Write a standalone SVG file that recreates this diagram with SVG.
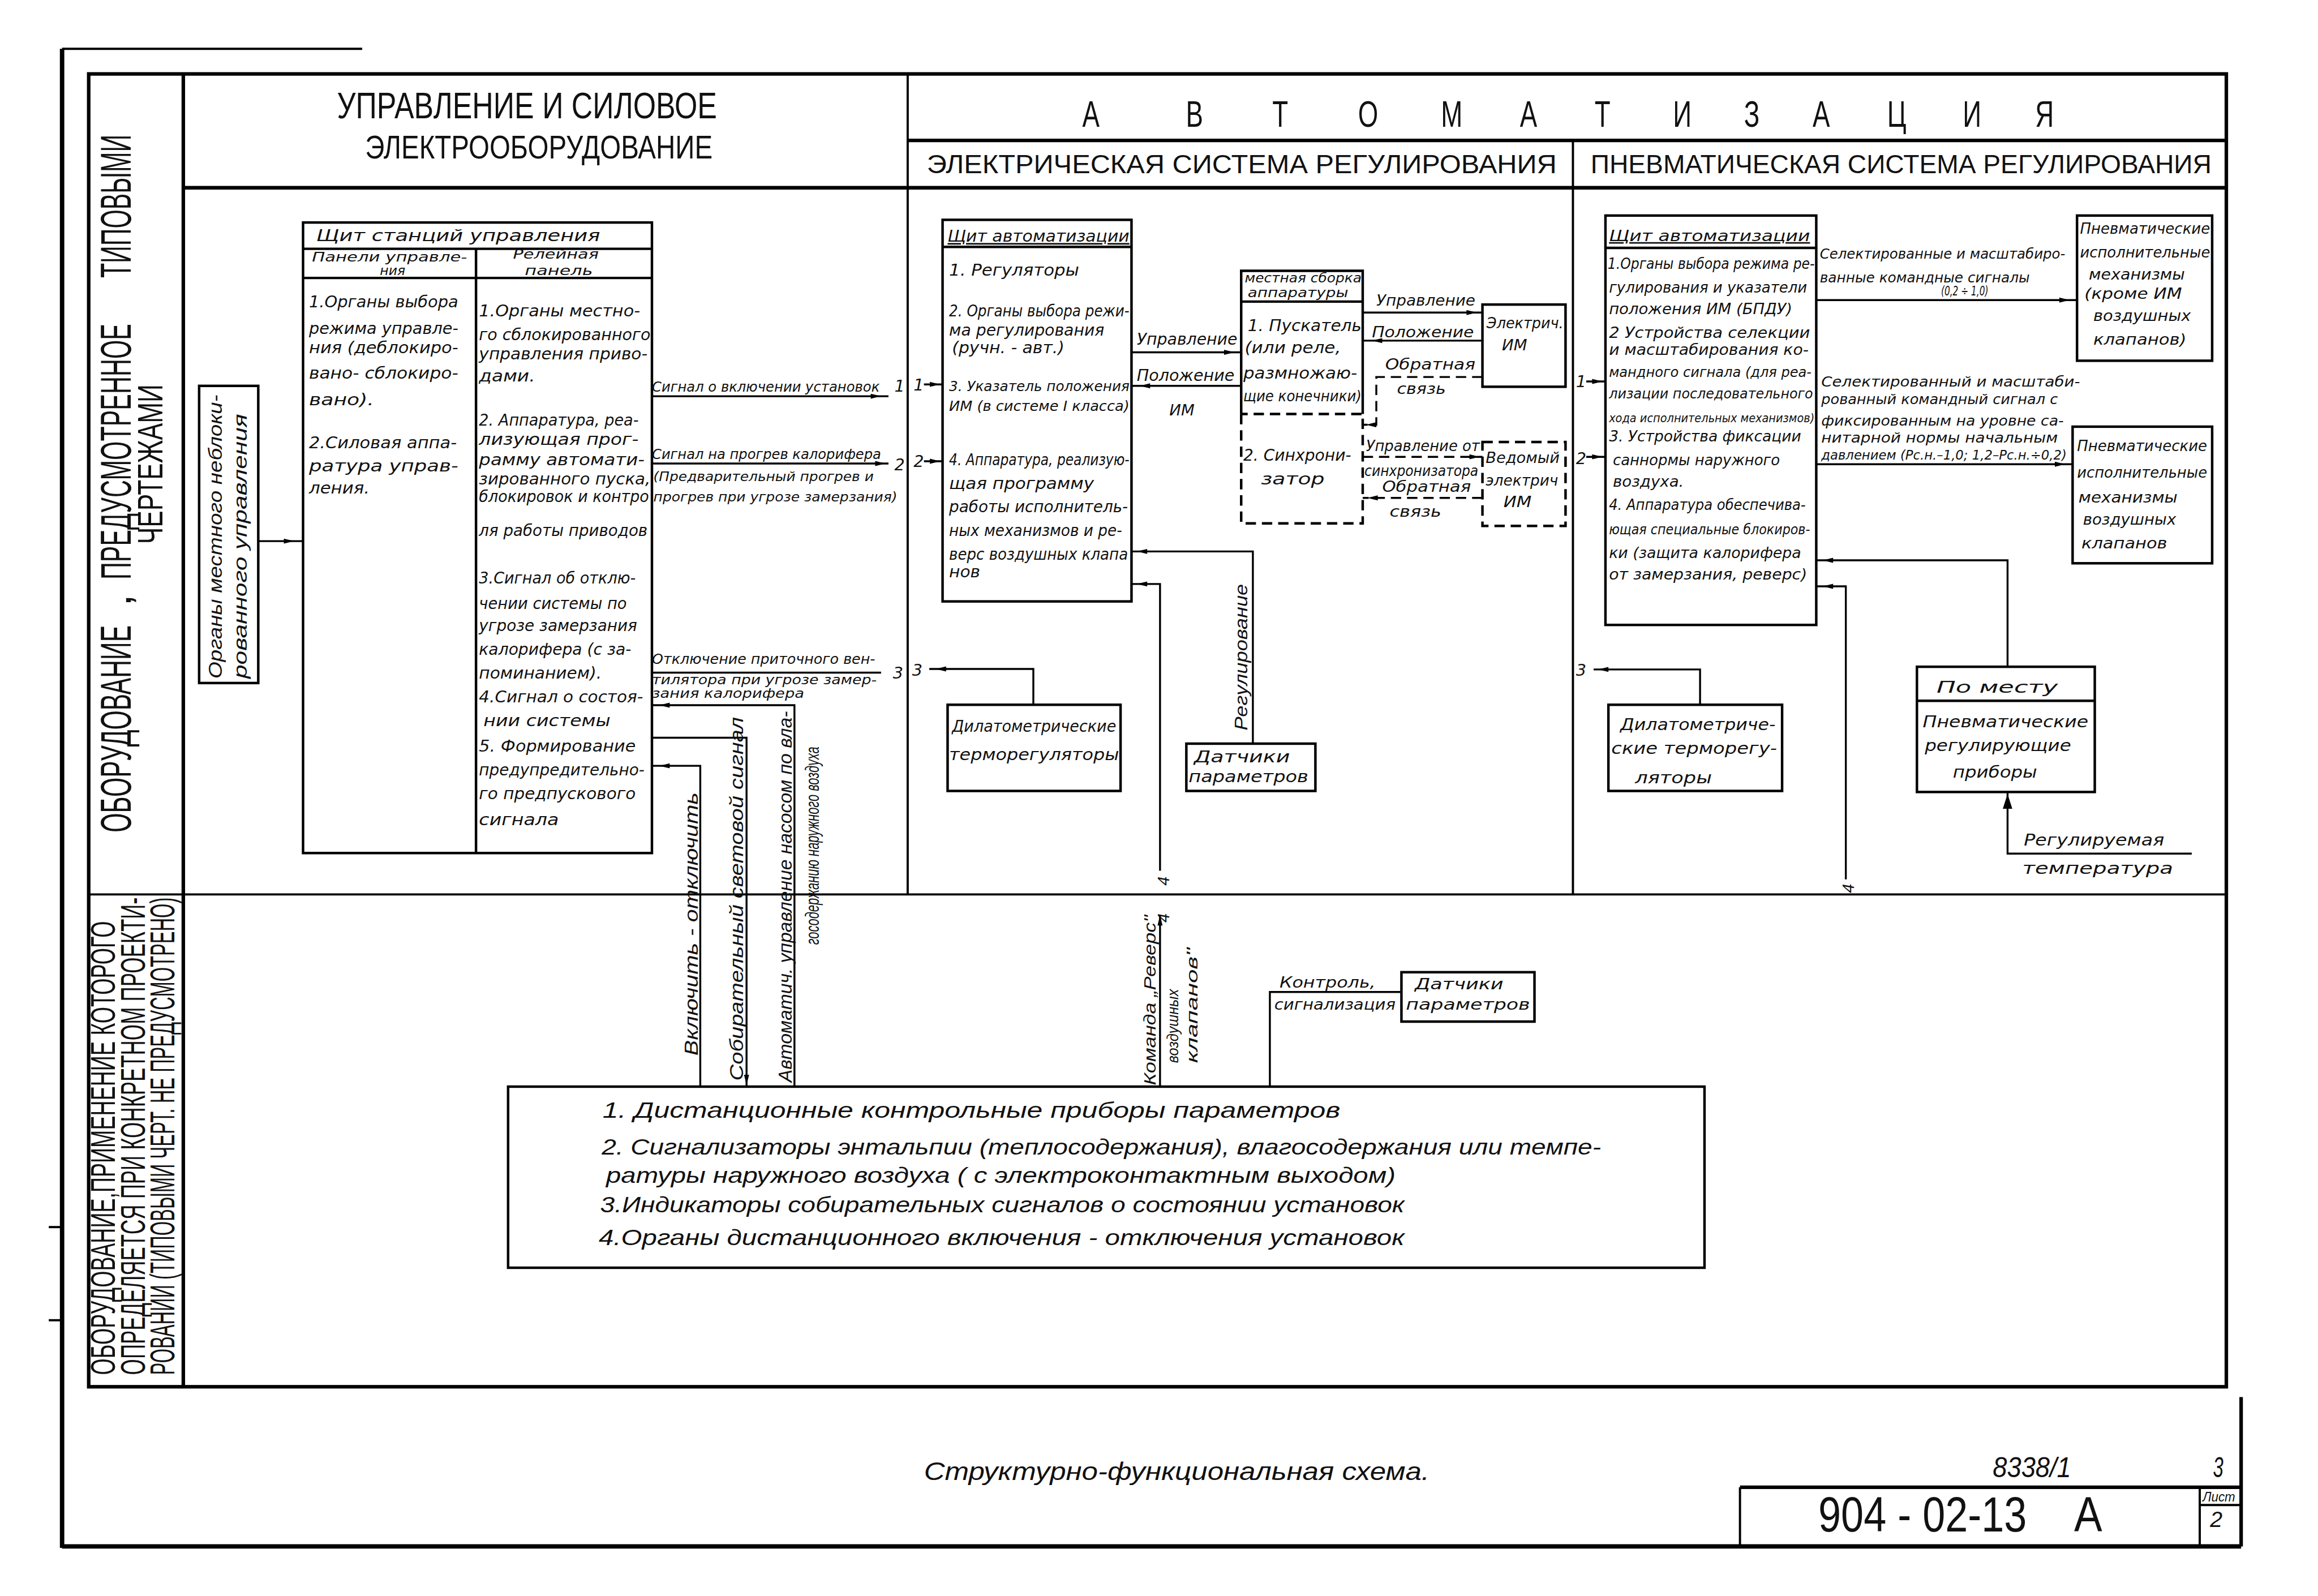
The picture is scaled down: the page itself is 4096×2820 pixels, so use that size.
<svg xmlns="http://www.w3.org/2000/svg" xmlns:xlink="http://www.w3.org/1999/xlink" width="4096" height="2820" viewBox="0 0 4096 2820">
<style>
.h{font-family:"DejaVu Sans","Liberation Sans",sans-serif;font-style:italic;fill:#111}
.n{font-family:"Liberation Sans","DejaVu Sans",sans-serif;fill:#111}
.ni{font-family:"Liberation Sans","DejaVu Sans",sans-serif;font-style:italic;fill:#111}
.fr{stroke:#000;stroke-width:2.4;fill:none}
.fm{stroke:#000;stroke-width:1.5;fill:none}
.bx{stroke:#000;stroke-width:1.7;fill:none}
.ln{stroke:#000;stroke-width:1.3;fill:none}
.ds{stroke-dasharray:7 4}
</style>
<defs>
<path id="ah" d="M0 0 L-7 -1.7 L-7 1.7 Z" fill="#000"/>
<path id="ahb" d="M0 0 L-10 -3.2 L-10 3.2 Z" fill="#000"/>
</defs>
<rect width="4096" height="2820" fill="#fff"/>
<g transform="scale(2.612245)">

<g id="frame">
<line x1="42" y1="33" x2="42" y2="1047" stroke="#000" stroke-width="3"/>
<line x1="42" y1="33" x2="245" y2="33" class="fm"/>
<line x1="42" y1="1046" x2="1516" y2="1046" stroke="#000" stroke-width="3"/>
<line x1="1516" y1="945" x2="1516" y2="1046" class="fr"/>
<line x1="33" y1="830" x2="42" y2="830" class="fm"/>
<line x1="33" y1="893" x2="42" y2="893" class="fm"/>
<rect x="60" y="50" width="1446" height="888" class="fr"/>
<line x1="124" y1="50" x2="124" y2="938" class="fr"/>
<line x1="124" y1="127" x2="1506" y2="127" class="fr"/>
<line x1="614" y1="50" x2="614" y2="605" class="fm"/>
<line x1="614" y1="95" x2="1506" y2="95" class="fr"/>
<line x1="1064" y1="95" x2="1064" y2="605" class="fm"/>
<line x1="60" y1="605" x2="1506" y2="605" class="fm"/>
</g>

<g id="side-texts">
<text class="n" font-size="29" transform="translate(88.6,563) rotate(-90)" textLength="140" lengthAdjust="spacingAndGlyphs">ОБОРУДОВАНИЕ</text>
<text class="n" font-size="29" transform="translate(88.6,410) rotate(-90)">,</text>
<text class="n" font-size="29" transform="translate(88.6,392) rotate(-90)" textLength="173" lengthAdjust="spacingAndGlyphs">ПРЕДУСМОТРЕННОЕ</text>
<text class="n" font-size="29" transform="translate(88.6,188) rotate(-90)" textLength="97" lengthAdjust="spacingAndGlyphs">ТИПОВЫМИ</text>
<text class="n" font-size="24" transform="translate(110,368) rotate(-90)" textLength="108" lengthAdjust="spacingAndGlyphs">ЧЕРТЕЖАМИ</text>
<text class="n" font-size="23.5" transform="translate(77.7,930) rotate(-90)" textLength="307" lengthAdjust="spacingAndGlyphs">ОБОРУДОВАНИЕ,ПРИМЕНЕНИЕ КОТОРОГО</text>
<text class="n" font-size="23.5" transform="translate(98,930) rotate(-90)" textLength="323" lengthAdjust="spacingAndGlyphs">ОПРЕДЕЛЯЕТСЯ ПРИ КОНКРЕТНОМ ПРОЕКТИ-</text>
<text class="n" font-size="23.5" transform="translate(118,930) rotate(-90)" textLength="323" lengthAdjust="spacingAndGlyphs">РОВАНИИ (ТИПОВЫМИ ЧЕРТ. НЕ ПРЕДУСМОТРЕНО)</text>
</g>

<g id="headers">
<text class="n" font-size="25" x="228" y="80" textLength="257" lengthAdjust="spacingAndGlyphs">УПРАВЛЕНИЕ И  СИЛОВОЕ</text>
<text class="n" font-size="22" x="247" y="107" textLength="235" lengthAdjust="spacingAndGlyphs">ЭЛЕКТРООБОРУДОВАНИЕ</text>
<text class="n" font-size="25" transform="scale(0.7,1)" y="85.6" text-anchor="middle"><tspan x="1054.3">А</tspan><tspan x="1154.3">В</tspan><tspan x="1237.1">Т</tspan><tspan x="1322.1">О</tspan><tspan x="1402.9">М</tspan><tspan x="1477.1">А</tspan><tspan x="1548.6">Т</tspan><tspan x="1625.7">И</tspan><tspan x="1692.9">З</tspan><tspan x="1760">А</tspan><tspan x="1832.9">Ц</tspan><tspan x="1905.7">И</tspan><tspan x="1975.7">Я</tspan></text>
<text class="n" font-size="17.5" x="627" y="117" textLength="426" lengthAdjust="spacingAndGlyphs">ЭЛЕКТРИЧЕСКАЯ   СИСТЕМА   РЕГУЛИРОВАНИЯ</text>
<text class="n" font-size="17.5" x="1076" y="117" textLength="420" lengthAdjust="spacingAndGlyphs">ПНЕВМАТИЧЕСКАЯ  СИСТЕМА  РЕГУЛИРОВАНИЯ</text>
</g>

<g id="node-local-control">
<rect x="134.7" y="261" width="40" height="201" class="bx"/>
<text class="ni" font-size="12.5" transform="translate(150,459) rotate(-90)" textLength="192" lengthAdjust="spacingAndGlyphs">Органы местного неблоки-</text>
<text class="ni" font-size="12.5" transform="translate(167,459) rotate(-90)" textLength="179" lengthAdjust="spacingAndGlyphs">рованного управления</text>
</g>

<g id="node-station-panel">
<rect x="205" y="150.5" width="236" height="426.5" class="bx"/>
<line x1="205" y1="168.3" x2="441" y2="168.3" class="bx"/>
<line x1="205" y1="188" x2="441" y2="188" class="bx"/>
<line x1="322" y1="168.3" x2="322" y2="577" class="bx"/>
<text class="h" font-size="11" x="214" y="163" textLength="192" lengthAdjust="spacingAndGlyphs">Щит станций  управления</text>
<text class="h" font-size="9" x="211" y="177" textLength="105" lengthAdjust="spacingAndGlyphs">Панели управле-</text>
<text class="h" font-size="9" x="257" y="186">ния</text>
<text class="h" font-size="9" x="347" y="175" textLength="58" lengthAdjust="spacingAndGlyphs">Релейная</text>
<text class="h" font-size="9" x="355" y="186" textLength="46" lengthAdjust="spacingAndGlyphs">панель</text>
<g font-size="11" class="h">
<text x="209" y="208" textLength="101" lengthAdjust="spacingAndGlyphs">1.Органы выбора</text>
<text x="209" y="226" textLength="101" lengthAdjust="spacingAndGlyphs">режима управле-</text>
<text x="209" y="239" textLength="101" lengthAdjust="spacingAndGlyphs">ния (деблокиро-</text>
<text x="209" y="256" textLength="101" lengthAdjust="spacingAndGlyphs">вано- сблокиро-</text>
<text x="209" y="274" textLength="44" lengthAdjust="spacingAndGlyphs">вано).</text>
<text x="209" y="303" textLength="100" lengthAdjust="spacingAndGlyphs">2.Силовая аппа-</text>
<text x="209" y="319" textLength="101" lengthAdjust="spacingAndGlyphs">ратура управ-</text>
<text x="209" y="334" textLength="41" lengthAdjust="spacingAndGlyphs">ления.</text>
<text x="324" y="214" textLength="109" lengthAdjust="spacingAndGlyphs">1.Органы местно-</text>
<text x="324" y="230" textLength="116" lengthAdjust="spacingAndGlyphs">го сблокированного</text>
<text x="324" y="243" textLength="114" lengthAdjust="spacingAndGlyphs">управления приво-</text>
<text x="324" y="258" textLength="38" lengthAdjust="spacingAndGlyphs">дами.</text>
<text x="324" y="288" textLength="108" lengthAdjust="spacingAndGlyphs">2. Аппаратура, реа-</text>
<text x="324" y="301" textLength="108" lengthAdjust="spacingAndGlyphs">лизующая прог-</text>
<text x="324" y="314.6" textLength="112" lengthAdjust="spacingAndGlyphs">рамму автомати-</text>
<text x="324" y="327.7" textLength="116" lengthAdjust="spacingAndGlyphs">зированного пуска,</text>
<text x="324" y="339.4" textLength="115" lengthAdjust="spacingAndGlyphs">блокировок и контро</text>
<text x="324" y="362.7" textLength="114" lengthAdjust="spacingAndGlyphs">ля работы приводов</text>
<text x="324" y="394.7" textLength="106" lengthAdjust="spacingAndGlyphs">3.Сигнал об отклю-</text>
<text x="324" y="412" textLength="100" lengthAdjust="spacingAndGlyphs">чении системы по</text>
<text x="324" y="426.8" textLength="107" lengthAdjust="spacingAndGlyphs">угрозе замерзания</text>
<text x="324" y="442.8" textLength="103" lengthAdjust="spacingAndGlyphs">калорифера (с за-</text>
<text x="324" y="459" textLength="83" lengthAdjust="spacingAndGlyphs">поминанием).</text>
<text x="324" y="475" textLength="111" lengthAdjust="spacingAndGlyphs">4.Сигнал о состоя-</text>
<text x="327" y="491" textLength="86" lengthAdjust="spacingAndGlyphs">нии  системы</text>
<text x="324" y="508.4" textLength="106" lengthAdjust="spacingAndGlyphs">5. Формирование</text>
<text x="324" y="524.5" textLength="112" lengthAdjust="spacingAndGlyphs">предупредительно-</text>
<text x="324" y="540.5" textLength="106" lengthAdjust="spacingAndGlyphs">го предпускового</text>
<text x="324" y="558" textLength="54" lengthAdjust="spacingAndGlyphs">сигнала</text>
</g>
</g>

<g id="node-el-panel">
<rect x="637.6" y="148.7" width="127.8" height="258.1" class="bx"/>
<line x1="637.6" y1="167" x2="765.4" y2="167" class="bx"/>
<g class="h" font-size="11">
<text x="641" y="163.6" textLength="123" lengthAdjust="spacingAndGlyphs" text-decoration="underline">Щит автоматизации</text>
<text x="642" y="186.3" textLength="88" lengthAdjust="spacingAndGlyphs">1. Регуляторы</text>
<text x="642" y="214" textLength="122" lengthAdjust="spacingAndGlyphs">2. Органы выбора режи-</text>
<text x="642" y="227" textLength="105" lengthAdjust="spacingAndGlyphs">ма регулирования</text>
<text x="644" y="239" textLength="76" lengthAdjust="spacingAndGlyphs">(ручн. - авт.)</text>
<text x="642" y="264.6" font-size="9.5" textLength="122" lengthAdjust="spacingAndGlyphs">3. Указатель положения</text>
<text x="642" y="278" font-size="9.5" textLength="122" lengthAdjust="spacingAndGlyphs">ИМ (в системе I класса)</text>
<text x="642" y="314.6" textLength="122" lengthAdjust="spacingAndGlyphs">4. Аппаратура, реализую-</text>
<text x="642" y="330.6" textLength="98" lengthAdjust="spacingAndGlyphs">щая  программу</text>
<text x="642" y="346.6" textLength="121" lengthAdjust="spacingAndGlyphs">работы исполнитель-</text>
<text x="642" y="362.7" textLength="117" lengthAdjust="spacingAndGlyphs">ных механизмов и ре-</text>
<text x="642" y="378.7" textLength="121" lengthAdjust="spacingAndGlyphs">верс воздушных клапа</text>
<text x="642" y="390.4" textLength="21" lengthAdjust="spacingAndGlyphs">нов</text>
</g>
</g>

<g id="node-el-dilat">
<rect x="641" y="476.7" width="117" height="58.3" class="bx"/>
<text class="h" font-size="11" x="644" y="495" textLength="111" lengthAdjust="spacingAndGlyphs">Дилатометрические</text>
<text class="h" font-size="11" x="642" y="514" textLength="115" lengthAdjust="spacingAndGlyphs">терморегуляторы</text>
</g>

<g id="node-el-sensors">
<rect x="802.5" y="503" width="87.3" height="32" class="bx"/>
<text class="h" font-size="11" x="807.6" y="515.7" textLength="65" lengthAdjust="spacingAndGlyphs">Датчики</text>
<text class="h" font-size="11" x="804" y="529" textLength="81" lengthAdjust="spacingAndGlyphs">параметров</text>
</g>

<g id="node-local-assembly">
<path d="M839.6 280 V183.2 H921.8 V280" class="bx"/>
<line x1="839.6" y1="204" x2="921.8" y2="204" class="bx"/>
<path d="M839.6 280 V354 H921.8 V280 H839.6" class="bx ds"/>
<text class="h" font-size="8.5" x="842" y="191" textLength="79" lengthAdjust="spacingAndGlyphs">местная сборка</text>
<text class="h" font-size="8.5" x="844" y="201" textLength="68" lengthAdjust="spacingAndGlyphs">аппаратуры</text>
<text class="h" font-size="11" x="844" y="224" textLength="77" lengthAdjust="spacingAndGlyphs">1. Пускатель</text>
<text class="h" font-size="11" x="842" y="239" textLength="65" lengthAdjust="spacingAndGlyphs">(или реле,</text>
<text class="h" font-size="11" x="841" y="256" textLength="77" lengthAdjust="spacingAndGlyphs">размножаю-</text>
<text class="h" font-size="10" x="841" y="271.5" textLength="80" lengthAdjust="spacingAndGlyphs">щие конечники)</text>
<text class="h" font-size="11" x="841" y="311.6" textLength="73" lengthAdjust="spacingAndGlyphs">2. Синхрони-</text>
<text class="h" font-size="11" x="853" y="327.7" textLength="43" lengthAdjust="spacingAndGlyphs">затор</text>
</g>

<g id="node-el-im">
<rect x="1002.8" y="206" width="56.2" height="55.6" class="bx"/>
<text class="h" font-size="10" x="1005.6" y="222" textLength="52" lengthAdjust="spacingAndGlyphs">Электрич.</text>
<text class="h" font-size="10" x="1016" y="237" textLength="17" lengthAdjust="spacingAndGlyphs">ИМ</text>
</g>

<g id="node-slave-im">
<rect x="1002.8" y="299" width="56.2" height="56.7" class="bx ds"/>
<text class="h" font-size="10" x="1005" y="313" textLength="50" lengthAdjust="spacingAndGlyphs">Ведомый</text>
<text class="h" font-size="10" x="1005" y="328.6" textLength="49" lengthAdjust="spacingAndGlyphs">электрич</text>
<text class="h" font-size="10" x="1017" y="343" textLength="19" lengthAdjust="spacingAndGlyphs">ИМ</text>
</g>

<g id="node-pn-panel">
<rect x="1086" y="145.8" width="142.6" height="276.9" class="bx"/>
<line x1="1086" y1="167.7" x2="1228.6" y2="167.7" class="bx"/>
<g class="h" font-size="10.5">
<text x="1088.4" y="163" textLength="136" lengthAdjust="spacingAndGlyphs" text-decoration="underline">Щит автоматизации</text>
<text x="1087.5" y="182" textLength="140" lengthAdjust="spacingAndGlyphs">1.Органы выбора режима ре-</text>
<text x="1088.4" y="198" textLength="134" lengthAdjust="spacingAndGlyphs">гулирования и указатели</text>
<text x="1088.4" y="212.6" textLength="124" lengthAdjust="spacingAndGlyphs">положения ИМ (БПДУ)</text>
<text x="1088.4" y="228.6" textLength="136" lengthAdjust="spacingAndGlyphs">2  Устройства селекции</text>
<text x="1088.4" y="240" textLength="135" lengthAdjust="spacingAndGlyphs">и масштабирования ко-</text>
<text x="1088.4" y="254.8" font-size="9.5" textLength="137" lengthAdjust="spacingAndGlyphs">мандного сигнала (для реа-</text>
<text x="1088.4" y="269.4" font-size="9.5" textLength="138" lengthAdjust="spacingAndGlyphs">лизации последовательного</text>
<text x="1088.4" y="285.4" font-size="7.8" textLength="139" lengthAdjust="spacingAndGlyphs">хода исполнительных механизмов)</text>
<text x="1088.4" y="298.6" textLength="130" lengthAdjust="spacingAndGlyphs">3. Устройства фиксации</text>
<text x="1091" y="314.6" textLength="113" lengthAdjust="spacingAndGlyphs">саннормы  наружного</text>
<text x="1091" y="329.2" textLength="48" lengthAdjust="spacingAndGlyphs">воздуха.</text>
<text x="1088.4" y="345" textLength="133" lengthAdjust="spacingAndGlyphs">4. Аппаратура обеспечива-</text>
<text x="1088.4" y="361.2" font-size="9.5" textLength="136" lengthAdjust="spacingAndGlyphs">ющая специальные блокиров-</text>
<text x="1088.4" y="377.3" textLength="130" lengthAdjust="spacingAndGlyphs">ки (защита калорифера</text>
<text x="1088.4" y="392" textLength="134" lengthAdjust="spacingAndGlyphs">от замерзания, реверс)</text>
</g>
</g>

<g id="node-pn-dilat">
<rect x="1088" y="476.7" width="117.5" height="58.3" class="bx"/>
<text class="h" font-size="11" x="1096" y="494" textLength="105" lengthAdjust="spacingAndGlyphs">Дилатометриче-</text>
<text class="h" font-size="11" x="1090" y="510" textLength="112" lengthAdjust="spacingAndGlyphs">ские терморегу-</text>
<text class="h" font-size="11" x="1106" y="530" textLength="52" lengthAdjust="spacingAndGlyphs">ляторы</text>
</g>

<g id="node-pn-im1">
<rect x="1405" y="145.8" width="91.4" height="98.2" class="bx"/>
<g class="h" font-size="10">
<text x="1407" y="158" textLength="88" lengthAdjust="spacingAndGlyphs">Пневматические</text>
<text x="1407" y="174" textLength="88" lengthAdjust="spacingAndGlyphs">исполнительные</text>
<text x="1413" y="189" textLength="65" lengthAdjust="spacingAndGlyphs">механизмы</text>
<text x="1410" y="202" textLength="66" lengthAdjust="spacingAndGlyphs">(кроме ИМ</text>
<text x="1416" y="217" textLength="66" lengthAdjust="spacingAndGlyphs">воздушных</text>
<text x="1416" y="233" textLength="63" lengthAdjust="spacingAndGlyphs">клапанов)</text>
</g>
</g>

<g id="node-pn-im2">
<rect x="1402" y="288.6" width="94.4" height="92.4" class="bx"/>
<g class="h" font-size="10">
<text x="1405" y="305" textLength="88" lengthAdjust="spacingAndGlyphs">Пневматические</text>
<text x="1405" y="323" textLength="88" lengthAdjust="spacingAndGlyphs">исполнительные</text>
<text x="1406" y="340" textLength="67" lengthAdjust="spacingAndGlyphs">механизмы</text>
<text x="1409" y="355" textLength="63" lengthAdjust="spacingAndGlyphs">воздушных</text>
<text x="1408" y="371" textLength="58" lengthAdjust="spacingAndGlyphs">клапанов</text>
</g>
</g>

<g id="node-pn-local">
<rect x="1296.7" y="451" width="120.3" height="84.7" class="bx"/>
<line x1="1296.7" y1="474" x2="1417" y2="474" class="bx"/>
<text class="h" font-size="11" x="1310" y="468.5" textLength="82" lengthAdjust="spacingAndGlyphs">По   месту</text>
<text class="h" font-size="11" x="1300.6" y="492" textLength="112" lengthAdjust="spacingAndGlyphs">Пневматические</text>
<text class="h" font-size="11" x="1302" y="508" textLength="99" lengthAdjust="spacingAndGlyphs">регулирующие</text>
<text class="h" font-size="11" x="1321" y="526" textLength="57" lengthAdjust="spacingAndGlyphs">приборы</text>
</g>

<g id="node-bottom-sensors">
<rect x="948" y="657.6" width="90" height="33.4" class="bx"/>
<text class="h" font-size="10.5" x="957" y="669" textLength="60" lengthAdjust="spacingAndGlyphs">Датчики</text>
<text class="h" font-size="10.5" x="951" y="683" textLength="84" lengthAdjust="spacingAndGlyphs">параметров</text>
</g>

<g id="node-remote">
<rect x="343.7" y="735" width="809.3" height="122.5" class="bx"/>
<g class="ni" font-size="15">
<text x="407.6" y="756" textLength="499" lengthAdjust="spacingAndGlyphs">1. Дистанционные   контрольные   приборы  параметров</text>
<text x="407" y="781" textLength="676" lengthAdjust="spacingAndGlyphs">2. Сигнализаторы   энтальпии (теплосодержания), влагосодержания   или  темпе-</text>
<text x="410" y="800" textLength="534" lengthAdjust="spacingAndGlyphs">ратуры наружного воздуха ( с электроконтактным выходом)</text>
<text x="406" y="820" textLength="544" lengthAdjust="spacingAndGlyphs">3.Индикаторы собирательных сигналов о состоянии установок</text>
<text x="405" y="842" textLength="545" lengthAdjust="spacingAndGlyphs">4.Органы   дистанционного включения - отключения   установок</text>
</g>
</g>

<g id="connectors">
<line x1="175" y1="366" x2="205" y2="366" class="ln"/>
<line x1="441" y1="268" x2="601" y2="268" class="ln"/>
<line x1="441" y1="313.5" x2="601" y2="313.5" class="ln"/>
<line x1="441" y1="455" x2="596" y2="455" class="ln"/>
<path d="M441 477 H537.4 V735" class="ln"/>
<path d="M441 499 H505 V735" class="ln"/>
<path d="M441 518 H473.7 V735" class="ln"/>
<line x1="625" y1="260" x2="637.6" y2="260" class="ln"/>
<line x1="625" y1="312" x2="637.6" y2="312" class="ln"/>
<path d="M628.6 452.5 H699 V476.7" class="ln"/>
<line x1="765.4" y1="238.3" x2="839.6" y2="238.3" class="ln"/>
<line x1="765.4" y1="261" x2="839.6" y2="261" class="ln"/>
<path d="M765.4 373 H847.5 V503" class="ln"/>
<path d="M765.4 395 H784.7 V589" class="ln"/>
<line x1="784.7" y1="619" x2="784.7" y2="735" class="ln"/>
<line x1="921.8" y1="211.4" x2="1002.8" y2="211.4" class="ln"/>
<line x1="921.8" y1="230.4" x2="1002.8" y2="230.4" class="ln"/>
<path d="M1002.8 255 H931 V287.3 H921.8" class="ln ds"/>
<line x1="921.8" y1="309" x2="1002.8" y2="309" class="ln ds"/>
<line x1="1002.8" y1="336.8" x2="921.8" y2="336.8" class="ln ds"/>
<path d="M948 671 H859 V735" class="ln"/>
<line x1="1073" y1="258" x2="1086" y2="258" class="ln"/>
<line x1="1073" y1="309" x2="1086" y2="309" class="ln"/>
<path d="M1078 452.8 H1150 V476.7" class="ln"/>
<line x1="1228.6" y1="203" x2="1405" y2="203" class="ln"/>
<line x1="1228.6" y1="314" x2="1402" y2="314" class="ln"/>
<path d="M1358 451 V379 H1228.6" class="ln"/>
<path d="M1228.6 396.6 H1248.6 V594.8" class="ln"/>
<path d="M1482.6 577.4 H1358 V536" class="ln"/>

<use xlink:href="#ah" transform="translate(199,366)"/>
<use xlink:href="#ah" transform="translate(596,268)"/>
<use xlink:href="#ah" transform="translate(599,313.5)"/>
<use xlink:href="#ah" transform="translate(446,477) rotate(180)"/>
<use xlink:href="#ah" transform="translate(505,734) rotate(90)"/>
<use xlink:href="#ah" transform="translate(446,518) rotate(180)"/>
<use xlink:href="#ah" transform="translate(636,260)"/>
<use xlink:href="#ah" transform="translate(636,312)"/>
<use xlink:href="#ah" transform="translate(633,452.5) rotate(180)"/>
<use xlink:href="#ah" transform="translate(835,238.3)"/>
<use xlink:href="#ah" transform="translate(771,261) rotate(180)"/>
<use xlink:href="#ah" transform="translate(769,373) rotate(180)"/>
<use xlink:href="#ah" transform="translate(769,395) rotate(180)"/>
<use xlink:href="#ah" transform="translate(784.7,619) rotate(-90)"/>
<use xlink:href="#ah" transform="translate(999,211.4)"/>
<use xlink:href="#ah" transform="translate(928,230.4) rotate(180)"/>
<use xlink:href="#ah" transform="translate(924,287.3) rotate(180)"/>
<use xlink:href="#ah" transform="translate(1001,309)"/>
<use xlink:href="#ah" transform="translate(925,336.8) rotate(180)"/>
<use xlink:href="#ah" transform="translate(1084,258)"/>
<use xlink:href="#ah" transform="translate(1084,309)"/>
<use xlink:href="#ah" transform="translate(1081,452.8) rotate(180)"/>
<use xlink:href="#ah" transform="translate(1400,203)"/>
<use xlink:href="#ah" transform="translate(1397,314)"/>
<use xlink:href="#ah" transform="translate(1233,379) rotate(180)"/>
<use xlink:href="#ah" transform="translate(1233,396.6) rotate(180)"/>
<use xlink:href="#ahb" transform="translate(1358,537) rotate(-90)"/>

<g class="h" font-size="10.5">
<text x="441" y="265" font-size="9.2" textLength="154" lengthAdjust="spacingAndGlyphs">Сигнал о включении установок</text>
<text x="441" y="310.5" font-size="9.2" textLength="155" lengthAdjust="spacingAndGlyphs">Сигнал на прогрев калорифера</text>
<text x="442" y="325.5" font-size="9" textLength="149" lengthAdjust="spacingAndGlyphs">(Предварительный прогрев и</text>
<text x="442" y="339" font-size="9" textLength="165" lengthAdjust="spacingAndGlyphs">прогрев при угрозе замерзания)</text>
<text x="441" y="449" font-size="9.2" textLength="151" lengthAdjust="spacingAndGlyphs">Отключение приточного вен-</text>
<text x="441" y="463" font-size="9" textLength="152" lengthAdjust="spacingAndGlyphs">тилятора при угрозе замер-</text>
<text x="441" y="472" font-size="9" textLength="103" lengthAdjust="spacingAndGlyphs">зания   калорифера</text>
<text x="605" y="265" font-size="11">1</text>
<text x="605" y="318" font-size="11">2</text>
<text x="604" y="459" font-size="11">3</text>
<text x="618" y="264" font-size="11">1</text>
<text x="618" y="316" font-size="11">2</text>
<text x="617" y="457" font-size="11">3</text>
<text x="1066" y="262" font-size="11">1</text>
<text x="1066" y="314" font-size="11">2</text>
<text x="1066" y="457" font-size="11">3</text>
<text x="769" y="233" font-size="11" textLength="68" lengthAdjust="spacingAndGlyphs">Управление</text>
<text x="769" y="257.7" font-size="11" textLength="66" lengthAdjust="spacingAndGlyphs">Положение</text>
<text x="791" y="281" font-size="10.5" textLength="17" lengthAdjust="spacingAndGlyphs">ИМ</text>
<text x="931" y="206.7" font-size="10.5" textLength="67" lengthAdjust="spacingAndGlyphs">Управление</text>
<text x="928" y="228" font-size="10.5" textLength="69" lengthAdjust="spacingAndGlyphs">Положение</text>
<text x="937" y="250" font-size="10.5" textLength="61" lengthAdjust="spacingAndGlyphs">Обратная</text>
<text x="945" y="266.5" font-size="10" textLength="33" lengthAdjust="spacingAndGlyphs">связь</text>
<text x="924" y="305" font-size="10" textLength="77" lengthAdjust="spacingAndGlyphs">Управление от</text>
<text x="923" y="322" font-size="10" textLength="77" lengthAdjust="spacingAndGlyphs">синхронизатора</text>
<text x="935" y="332.7" font-size="10.5" textLength="60" lengthAdjust="spacingAndGlyphs">Обратная</text>
<text x="940" y="349.6" font-size="10" textLength="35" lengthAdjust="spacingAndGlyphs">связь</text>
<text x="865.5" y="668" font-size="10.5" textLength="65" lengthAdjust="spacingAndGlyphs">Контроль,</text>
<text x="862" y="683" font-size="10.5" textLength="82" lengthAdjust="spacingAndGlyphs">сигнализация</text>
<text x="1231" y="175" font-size="9.5" textLength="166" lengthAdjust="spacingAndGlyphs">Селектированные и масштабиро-</text>
<text x="1231" y="191" font-size="9.5" textLength="142" lengthAdjust="spacingAndGlyphs">ванные командные сигналы</text>
<text x="1313" y="200" font-size="8.5" textLength="32" lengthAdjust="spacingAndGlyphs">(0,2 ÷ 1,0)</text>
<text x="1232" y="261.5" font-size="9.5" textLength="175" lengthAdjust="spacingAndGlyphs">Селектированный и масштаби-</text>
<text x="1232" y="273.3" font-size="9.5" textLength="160" lengthAdjust="spacingAndGlyphs">рованный командный сигнал с</text>
<text x="1232" y="287.8" font-size="9.5" textLength="164" lengthAdjust="spacingAndGlyphs">фиксированным на уровне са-</text>
<text x="1232" y="299.5" font-size="9.5" textLength="160" lengthAdjust="spacingAndGlyphs">нитарной нормы начальным</text>
<text x="1232" y="311" font-size="9" textLength="166" lengthAdjust="spacingAndGlyphs">давлением (Рс.н.–1,0; 1,2–Рс.н.÷0,2)</text>
<text x="1369" y="572" font-size="11" textLength="95" lengthAdjust="spacingAndGlyphs">Регулируемая</text>
<text x="1368" y="591" font-size="11" textLength="102" lengthAdjust="spacingAndGlyphs">температура</text>
</g>
<g class="ni">
<text font-size="13" transform="translate(472,714) rotate(-90)" textLength="178" lengthAdjust="spacingAndGlyphs">Включить - отключить</text>
<text font-size="13" transform="translate(502.5,731) rotate(-90)" textLength="246" lengthAdjust="spacingAndGlyphs">Собирательный  световой сигнал</text>
<text font-size="12.5" transform="translate(535.5,732) rotate(-90)" textLength="251" lengthAdjust="spacingAndGlyphs">Автоматич. управление насосом по вла-</text>
<text font-size="12.5" transform="translate(554,639) rotate(-90)" textLength="134" lengthAdjust="spacingAndGlyphs">госодержанию наружного воздуха</text>
<text font-size="12" transform="translate(843.6,494) rotate(-90)" textLength="99" lengthAdjust="spacingAndGlyphs">Регулирование</text>
<text font-size="11" transform="translate(781.7,734) rotate(-90)" textLength="115" lengthAdjust="spacingAndGlyphs">Команда „Реверс"</text>
<text font-size="10.5" transform="translate(797,719) rotate(-90)" textLength="50" lengthAdjust="spacingAndGlyphs">воздушных</text>
<text font-size="10.5" transform="translate(810,719) rotate(-90)" textLength="78" lengthAdjust="spacingAndGlyphs">клапанов"</text>
<text font-size="11" transform="translate(791,599) rotate(-90)">4</text>
<text font-size="11" transform="translate(791,624) rotate(-90)">4</text>
<text font-size="11" transform="translate(1254,604) rotate(-90)">4</text>
</g>
</g>

<g id="title-block">
<line x1="1177" y1="1006" x2="1516" y2="1006" class="fr"/>
<line x1="1177" y1="1006" x2="1177" y2="1046" class="fm"/>
<line x1="1488" y1="1006" x2="1488" y2="1046" class="fm"/>
<line x1="1488" y1="1018" x2="1516" y2="1018" class="fm"/>
<text class="ni" font-size="17" x="625" y="1001" textLength="342" lengthAdjust="spacingAndGlyphs">Структурно-функциональная схема.</text>
<text class="ni" font-size="19" x="1348" y="999" textLength="53" lengthAdjust="spacingAndGlyphs">8338/1</text>
<text class="ni" font-size="19" x="1497" y="999" textLength="7" lengthAdjust="spacingAndGlyphs">3</text>
<text class="n" font-size="33" x="1230" y="1036" textLength="141" lengthAdjust="spacingAndGlyphs">904 - 02-13</text>
<text class="n" font-size="33" x="1403" y="1036" textLength="19" lengthAdjust="spacingAndGlyphs">А</text>
<text class="ni" font-size="9" x="1490" y="1015.5" textLength="22" lengthAdjust="spacingAndGlyphs">Лист</text>
<text class="ni" font-size="15" x="1495" y="1033">2</text>
</g>

</g>
</svg>
